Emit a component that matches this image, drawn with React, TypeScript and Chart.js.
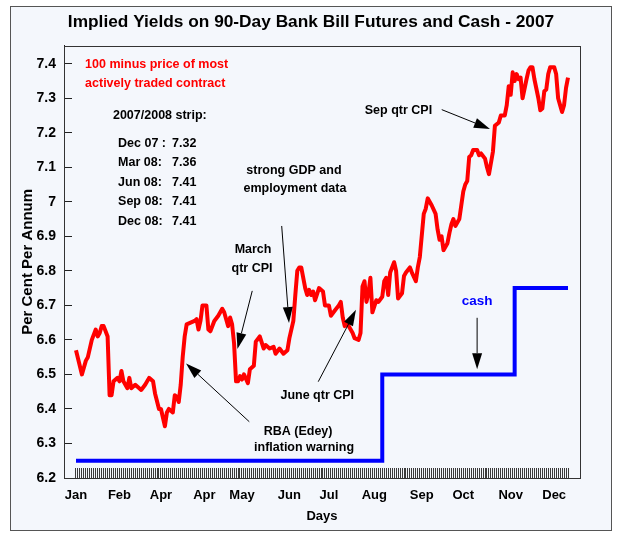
import React, { useEffect, useRef } from "react";
import { Chart, registerables } from "chart.js";

Chart.register(...registerables);

const FONT = "'Liberation Sans', Arial, Helvetica, sans-serif";

// x-axis: trading-day index; month labels as printed on the original
const monthDays = [0, 22, 43, 65, 84, 108, 128, 151, 175, 196, 220, 242];
const monthLabels = ["Jan", "Feb", "Apr", "Apr", "May", "Jun", "Jul", "Aug", "Sep", "Oct", "Nov", "Dec"];
// one tick mark per trading day (the hatched band along the bottom)
const tradingDays = Array.from({ length: 250 }, (_, i) => i);

const yTicks = [6.2, 6.3, 6.4, 6.5, 6.6, 6.7, 6.8, 6.9, 7, 7.1, 7.2, 7.3, 7.4];

// 100 minus price of most actively traded contract
const futuresDays = [
  0, 3, 5, 6, 8, 10, 11, 12, 13, 14, 16, 17, 18, 19, 21, 22, 23, 24, 26, 27, 28, 30, 32, 33, 35, 37, 39, 40, 42, 43,
  45, 46, 47, 49, 50, 51, 52, 53, 54, 55, 56, 58, 60, 61, 62, 63, 64, 66, 67, 68, 70, 72, 74, 75, 76, 77, 78, 79, 80,
  81, 82, 83, 84, 85, 87, 88, 90, 91, 93, 95, 96, 98, 100, 101, 103, 105, 107, 108, 110, 111, 112, 113, 114, 116, 117,
  118, 119, 120, 121, 123, 125, 126, 128, 129, 131, 133, 134, 135, 136, 137, 138, 140, 141, 143, 144, 145, 146, 147,
  148, 149, 150, 152, 153, 155, 156, 157, 158, 159, 161, 162, 163, 165, 166, 167, 169, 170, 172, 173, 174, 176, 177,
  178, 179, 180, 182, 183, 184, 185, 186, 188, 189, 190, 191, 192, 194, 195, 196, 197, 198, 199, 200, 201, 203, 204,
  205, 207, 208, 209, 211, 212, 214, 215, 217, 218, 219, 220, 221, 222, 223, 224, 225, 226, 228, 229, 230, 231, 232,
  234, 235, 236, 237, 238, 239, 240, 242, 243, 244, 245, 246, 247, 248, 249,
];
const futuresYields = [
  6.57, 6.5, 6.54, 6.55, 6.6, 6.63, 6.61, 6.62, 6.64, 6.64, 6.61, 6.44, 6.44, 6.48, 6.49, 6.48, 6.51, 6.48, 6.46, 6.49,
  6.46, 6.47, 6.46, 6.455, 6.47, 6.49, 6.48, 6.445, 6.4, 6.4, 6.35, 6.39, 6.4, 6.39, 6.44, 6.435, 6.42, 6.47, 6.55,
  6.61, 6.645, 6.65, 6.655, 6.66, 6.63, 6.655, 6.7, 6.7, 6.63, 6.625, 6.655, 6.67, 6.69, 6.68, 6.66, 6.64, 6.665,
  6.645, 6.59, 6.48, 6.48, 6.495, 6.485, 6.5, 6.475, 6.515, 6.525, 6.595, 6.61, 6.575, 6.585, 6.575, 6.58, 6.56,
  6.575, 6.56, 6.57, 6.605, 6.655, 6.73, 6.8, 6.81, 6.81, 6.75, 6.73, 6.745, 6.73, 6.74, 6.715, 6.75, 6.74, 6.7, 6.7,
  6.67, 6.685, 6.7, 6.71, 6.665, 6.64, 6.65, 6.64, 6.62, 6.605, 6.6, 6.62, 6.755, 6.77, 6.71, 6.735, 6.78, 6.68,
  6.715, 6.71, 6.725, 6.77, 6.78, 6.73, 6.795, 6.825, 6.8, 6.72, 6.735, 6.785, 6.795, 6.81, 6.795, 6.77, 6.81, 6.84,
  6.965, 6.98, 7.01, 7.0, 6.99, 6.965, 6.92, 6.89, 6.9, 6.86, 6.88, 6.91, 6.935, 6.95, 6.93, 6.95, 6.99, 7.03, 7.05,
  7.06, 7.13, 7.135, 7.15, 7.15, 7.135, 7.14, 7.125, 7.1, 7.08, 7.145, 7.22, 7.23, 7.25, 7.25, 7.28, 7.335, 7.31,
  7.375, 7.35, 7.37, 7.355, 7.36, 7.3, 7.355, 7.38, 7.39, 7.39, 7.355, 7.3, 7.265, 7.27, 7.32, 7.325, 7.37, 7.39,
  7.39, 7.37, 7.3, 7.28, 7.26, 7.28, 7.33, 7.36,
];

// cash rate steps
const cashDays = [0, 155, 222, 249];
const cashRates = [6.25, 6.5, 6.75, 6.75];

// annotations (anchored in data coordinates)
const noteTexts = [
  { text: "100 minus price of most", x: 4.6, y: 7.398, align: "left", color: "#ff0000" },
  { text: "actively traded contract", x: 4.6, y: 7.343, align: "left", color: "#ff0000" },
  { text: "2007/2008 strip:", x: 18.7, y: 7.25, align: "left", color: "#000" },
  { text: "Dec 07 :", x: 21.3, y: 7.17, align: "left", color: "#000" },
  { text: "7.32", x: 48.6, y: 7.17, align: "left", color: "#000" },
  { text: "Mar 08:", x: 21.3, y: 7.115, align: "left", color: "#000" },
  { text: "7.36", x: 48.6, y: 7.115, align: "left", color: "#000" },
  { text: "Jun 08:", x: 21.3, y: 7.057, align: "left", color: "#000" },
  { text: "7.41", x: 48.6, y: 7.057, align: "left", color: "#000" },
  { text: "Sep 08:", x: 21.3, y: 7.001, align: "left", color: "#000" },
  { text: "7.41", x: 48.6, y: 7.001, align: "left", color: "#000" },
  { text: "Dec 08:", x: 21.3, y: 6.943, align: "left", color: "#000" },
  { text: "7.41", x: 48.6, y: 6.943, align: "left", color: "#000" },
  { text: "strong GDP and", x: 110.3, y: 7.09, align: "center", color: "#000" },
  { text: "employment data", x: 110.8, y: 7.038, align: "center", color: "#000" },
  { text: "March", x: 89.6, y: 6.861, align: "center", color: "#000" },
  { text: "qtr CPI", x: 89.1, y: 6.807, align: "center", color: "#000" },
  { text: "June qtr CPI", x: 122.1, y: 6.438, align: "center", color: "#000" },
  { text: "RBA (Edey)", x: 112.4, y: 6.336, align: "center", color: "#000" },
  { text: "inflation warning", x: 115.4, y: 6.288, align: "center", color: "#000" },
  { text: "Sep qtr CPI", x: 163.2, y: 7.263, align: "center", color: "#000" },
  { text: "cash", x: 203, y: 6.711, align: "center", color: "#0000ff" },
];

const noteArrows = [
  { from: [185.1, 7.267], to: [209.5, 7.211] },
  { from: [104.1, 6.93], to: [107.8, 6.649] },
  { from: [89.2, 6.742], to: [81.7, 6.574] },
  { from: [122.6, 6.479], to: [141.7, 6.687] },
  { from: [87.7, 6.363], to: [55.7, 6.532] },
  { from: [203, 6.664], to: [203, 6.515] },
];

const labelMap = new Map(monthDays.map((d, i) => [d, monthLabels[i]]));

const framePlugin = {
  id: "plotFrame",
  afterDatasetsDraw(chart: any) {
    const { ctx, chartArea: a } = chart;
    ctx.save();
    ctx.strokeStyle = "#333";
    ctx.lineWidth = 1;
    ctx.strokeRect(Math.round(a.left) + 0.5, Math.round(a.top) + 0.5, Math.round(a.right - a.left), Math.round(a.bottom - a.top));
    ctx.restore();
  },
};

const notesPlugin = {
  id: "notes",
  afterDatasetsDraw(chart: any) {
    const { ctx } = chart;
    const xs = chart.scales.x;
    const ys = chart.scales.y;
    ctx.save();
    ctx.textBaseline = "middle";
    for (const n of noteTexts) {
      ctx.font = `bold ${n.text === "cash" ? 13.5 : 12.5}px ${FONT}`;
      ctx.fillStyle = n.color;
      ctx.textAlign = n.align as CanvasTextAlign;
      ctx.fillText(n.text, xs.getPixelForValue(n.x), ys.getPixelForValue(n.y));
    }
    ctx.strokeStyle = "#000";
    ctx.fillStyle = "#000";
    ctx.lineWidth = 1;
    for (const a of noteArrows) {
      const x1 = xs.getPixelForValue(a.from[0]);
      const y1 = ys.getPixelForValue(a.from[1]);
      const x2 = xs.getPixelForValue(a.to[0]);
      const y2 = ys.getPixelForValue(a.to[1]);
      const ang = Math.atan2(y2 - y1, x2 - x1);
      const len = 16;
      const hw = 5;
      const bx = x2 - len * Math.cos(ang);
      const by = y2 - len * Math.sin(ang);
      ctx.beginPath();
      ctx.moveTo(x1, y1);
      ctx.lineTo(bx, by);
      ctx.stroke();
      ctx.beginPath();
      ctx.moveTo(x2, y2);
      ctx.lineTo(bx + hw * Math.sin(ang), by - hw * Math.cos(ang));
      ctx.lineTo(bx - hw * Math.sin(ang), by + hw * Math.cos(ang));
      ctx.closePath();
      ctx.fill();
    }
    ctx.restore();
  },
};

export default function App() {
  const ref = useRef<HTMLCanvasElement>(null);

  useEffect(() => {
    if (!ref.current) return;
    Chart.defaults.font.family = FONT;
    const chart = new Chart(ref.current, {
      type: "line",
      data: {
        datasets: [
          {
            label: "cash",
            data: cashDays.map((d, i) => ({ x: d, y: cashRates[i] })),
            borderColor: "#0000ff",
            borderWidth: 4,
            stepped: "before",
            pointRadius: 0,
            fill: false,
            borderJoinStyle: "miter",
          },
          {
            label: "futures",
            data: futuresDays.map((d, i) => ({ x: d, y: futuresYields[i] })),
            borderColor: "#ff0000",
            borderWidth: 4,
            pointRadius: 0,
            tension: 0,
            fill: false,
            borderJoinStyle: "round",
          },
        ],
      },
      options: {
        responsive: false,
        animation: false,
        events: [],
        layout: { padding: 0 },
        plugins: {
          legend: { display: false },
          tooltip: { enabled: false },
          title: {
            display: true,
            text: "Implied Yields on 90-Day Bank Bill Futures and Cash - 2007",
            color: "#000",
            font: { size: 17.3, weight: "bold", family: FONT },
            padding: { top: 5, bottom: 13 },
          },
        },
        scales: {
          x: {
            type: "linear",
            min: -6.07,
            max: 255.07,
            afterBuildTicks: (s: any) => {
              s.ticks = tradingDays.map((v) => ({ value: v }));
            },
            afterFit: (s: any) => {
              s.height = 52;
            },
            ticks: {
              autoSkip: false,
              maxRotation: 0,
              minRotation: 0,
              padding: 20,
              color: "#000",
              font: { size: 13, weight: "bold" },
              callback: (v: any) => labelMap.get(Number(v)) ?? "",
            },
            grid: { drawOnChartArea: false, tickLength: -10, color: "#3a3a3a", lineWidth: 1 },
            border: { color: "#222", width: 1 },
            title: {
              display: true,
              text: "Days",
              color: "#000",
              font: { size: 13, weight: "bold" },
              padding: { top: 0, bottom: 6 },
            },
          },
          y: {
            type: "linear",
            min: 6.2,
            max: 7.452,
            afterBuildTicks: (s: any) => {
              s.ticks = yTicks.map((v) => ({ value: v }));
            },
            afterFit: (s: any) => {
              s.width = 53;
            },
            ticks: {
              padding: 16,
              color: "#000",
              font: { size: 14, weight: "bold" },
              callback: (v: any) => String(Number(v)),
            },
            grid: { drawOnChartArea: false, tickLength: -8, color: "#222", lineWidth: 1 },
            border: { color: "#222", width: 1 },
            title: {
              display: true,
              text: "Per Cent Per Annum",
              color: "#000",
              font: { size: 15, weight: "bold" },
              padding: { top: 8, bottom: 0 },
            },
          },
          yRight: {
            type: "linear",
            position: "right",
            min: 6.2,
            max: 7.452,
            afterFit: (s: any) => {
              s.width = 31;
            },
            ticks: { display: false },
            grid: { display: false },
            border: { display: false },
          },
        },
      },
      plugins: [framePlugin, notesPlugin],
    } as any);
    return () => chart.destroy();
  }, []);

  return (
    <div
      style={{
        position: "absolute",
        left: 10,
        top: 6,
        width: 602,
        height: 525,
        border: "1px solid #555",
        background: "#F4F7FC",
        boxSizing: "border-box",
      }}
    >
      <canvas ref={ref} width={600} height={523} style={{ display: "block", width: 600, height: 523 }} />
    </div>
  );
}
